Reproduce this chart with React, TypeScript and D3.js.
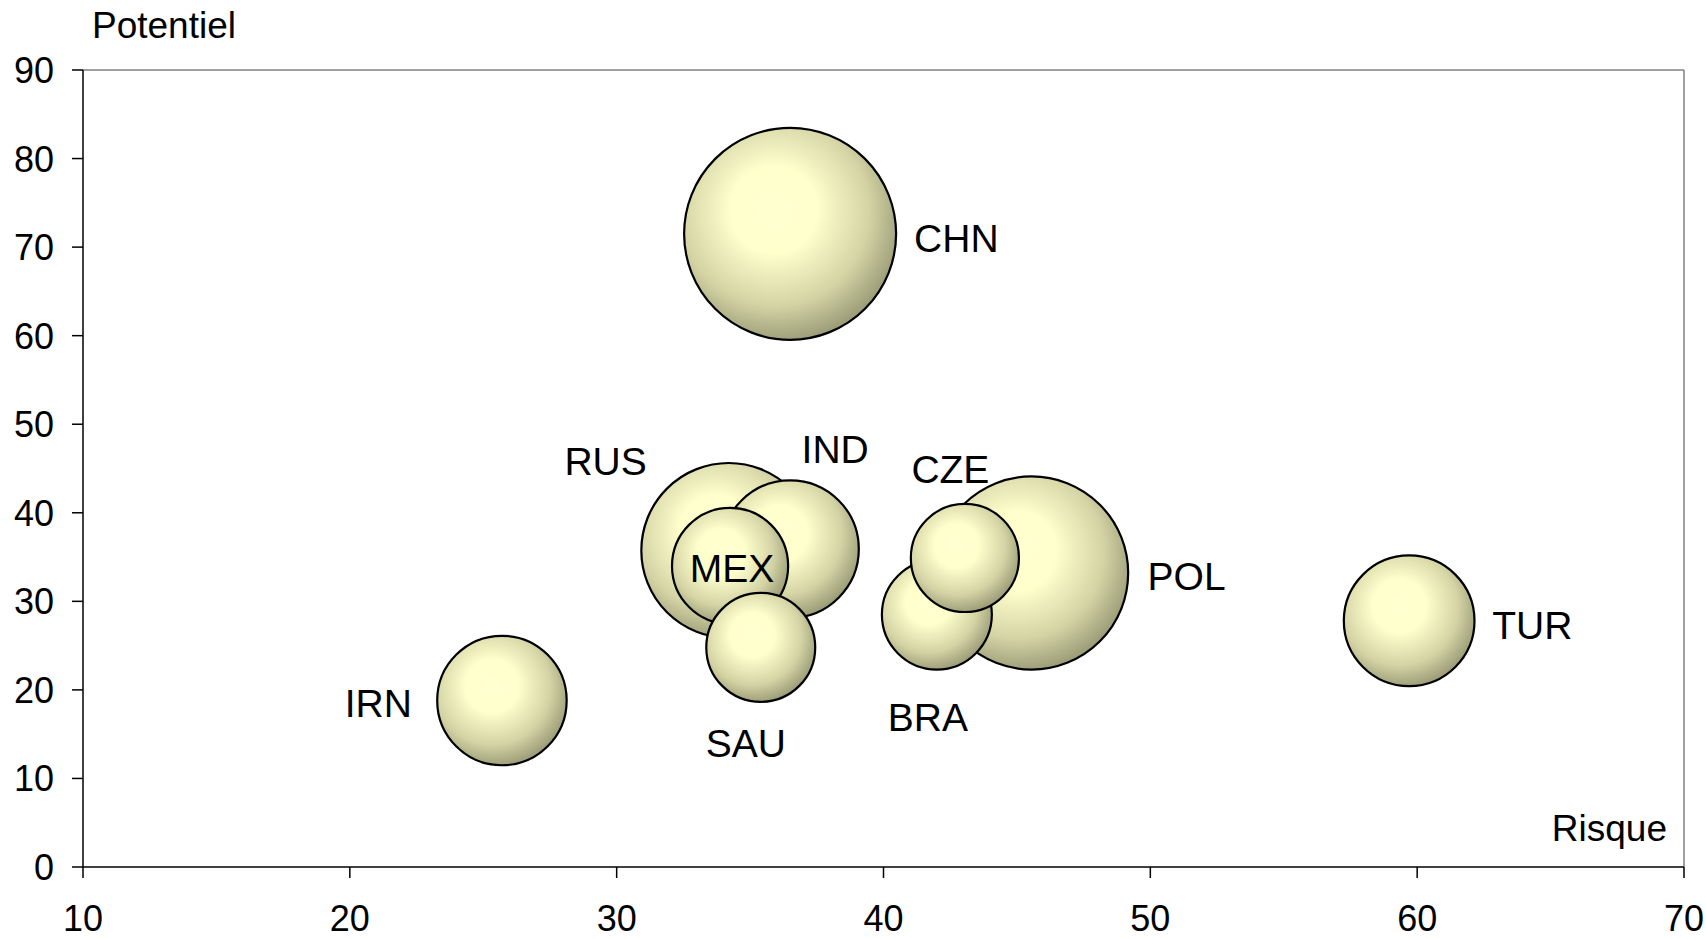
import React from 'react';
import * as d3 from 'd3';

// values
const countries = ['CHN', 'RUS', 'IND', 'MEX', 'SAU', 'BRA', 'CZE', 'POL', 'TUR', 'IRN'];
const risque = [36.5, 34.2, 36.5, 34.25, 35.4, 42.0, 43.05, 45.55, 59.7, 25.7];
const potentiel = [71.5, 35.75, 35.9, 34.0, 24.8, 28.5, 34.9, 33.2, 27.8, 18.8];
const taille = [100, 68, 42, 30, 26.4, 26.9, 26, 83, 38, 37.3];

const xTicks = [10, 20, 30, 40, 50, 60, 70];
const yTicks = [0, 10, 20, 30, 40, 50, 60, 70, 80, 90];

// label placement relative to the bubble centre (px)
const labelDx = [124, -82, 11.5, 2, -15, -9, -14.5, 116, 83, -90];
const labelDy = [18, -75, -86.5, 16, 109.5, 116, -74.5, 16.7, 17.8, 16.2];
const labelAnchor = ['start', 'end', 'start', 'middle', 'middle', 'middle', 'middle', 'start', 'start', 'end'];

const W = 1706;
const H = 939;
const left = 83, right = 1684, top = 70, bottom = 867;
const font = '"Liberation Sans", Arial, sans-serif';

export default function App() {
  const x = d3.scaleLinear().domain([10, 70]).range([left, right]);
  const y = d3.scaleLinear().domain([0, 90]).range([bottom, top]);
  const r = d3.scaleSqrt().domain([0, 100]).range([0, 106]);

  // Excel puts the big bubbles at the back
  const order = d3.range(countries.length).sort((a, b) => taille[b] - taille[a]);

  return (
    <svg width={W} height={H} style={{ position: 'absolute', left: 0, top: 0, background: '#fff' }} fontFamily={font}>
      <defs>
        <radialGradient id="bub" cx="0.43" cy="0.4" r="0.62" fx="0.42" fy="0.38">
          <stop offset="0" stopColor="#FFFFD0" />
          <stop offset="0.33" stopColor="#FFFFCC" />
          <stop offset="0.72" stopColor="#D3D3A5" />
          <stop offset="1" stopColor="#9A9A76" />
        </radialGradient>
      </defs>

      {/* plot border: top and right in grey */}
      <line x1={left} x2={right} y1={top} y2={top} stroke="#808080" strokeWidth={1.5} />
      <line x1={right} x2={right} y1={top} y2={bottom} stroke="#808080" strokeWidth={1.5} />

      {/* bubbles */}
      {order.map(i => (
        <circle key={countries[i]} cx={x(risque[i])} cy={y(potentiel[i])} r={r(taille[i])}
          fill="url(#bub)" stroke="#000" strokeWidth={2.2} />
      ))}

      {/* labels */}
      {countries.map((c, i) => (
        <text key={c} x={x(risque[i]) + labelDx[i]} y={y(potentiel[i]) + labelDy[i]}
          textAnchor={labelAnchor[i] as any} fontSize={39} fill="#000">{c}</text>
      ))}

      {/* axes */}
      <line x1={left} x2={left} y1={top} y2={bottom} stroke="#000" strokeWidth={1.5} />
      <line x1={left} x2={right} y1={bottom} y2={bottom} stroke="#000" strokeWidth={1.5} />
      {yTicks.map(t => (
        <g key={'y' + t}>
          <line x1={left - 11} x2={left} y1={y(t)} y2={y(t)} stroke="#000" strokeWidth={1.5} />
          <text x={54} y={y(t) + 13} textAnchor="end" fontSize={36}>{t}</text>
        </g>
      ))}
      {xTicks.map(t => (
        <g key={'x' + t}>
          <line x1={x(t)} x2={x(t)} y1={bottom} y2={bottom + 11} stroke="#000" strokeWidth={1.5} />
          <text x={x(t)} y={931} textAnchor="middle" fontSize={36}>{t}</text>
        </g>
      ))}

      <text x={92} y={38} fontSize={37}>Potentiel</text>
      <text x={1667} y={841} textAnchor="end" fontSize={37}>Risque</text>
    </svg>
  );
}
